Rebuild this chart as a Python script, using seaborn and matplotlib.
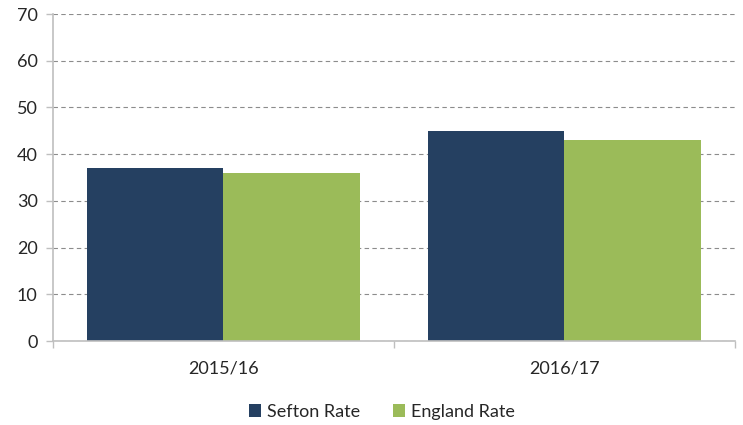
import pandas as pd
import matplotlib.pyplot as plt
import seaborn as sns
from matplotlib.ticker import FixedLocator

# Values
years = ['2015/16', '2016/17']
sefton_rate = [37, 45]
england_rate = [36, 43]
series_names = ['Sefton Rate', 'England Rate']
colors = ['#254061', '#9BBB59']

df = pd.DataFrame({
    'Year': years * 2,
    'Series': [series_names[0]] * len(years) + [series_names[1]] * len(years),
    'Rate': sefton_rate + england_rate,
})

sns.set_style('white')
plt.rcParams['font.family'] = ['Lato', 'DejaVu Sans']

fig = plt.figure(figsize=(7.43, 4.25), dpi=100)
ax = fig.add_axes([0.0713, 0.1976, 0.9177, 0.7694])

sns.barplot(data=df, x='Year', y='Rate', hue='Series', palette=colors,
            width=0.8, saturation=1, linewidth=0, ax=ax, legend=True)

ax.set_ylim(0, 70)
ax.set_xlim(-0.5, 1.5)
ax.set_yticks(range(0, 71, 10))
ax.yaxis.grid(True, linestyle=(0, (4, 3)), color='#8C8C8C', linewidth=0.8)
ax.set_axisbelow(True)

ax.set_xlabel('')
ax.set_ylabel('')
for side in ['top', 'right']:
    ax.spines[side].set_visible(False)
for side in ['left', 'bottom']:
    ax.spines[side].set_color('#BFBFBF')
    ax.spines[side].set_linewidth(1.2)

ax.tick_params(axis='y', which='major', length=5, color='#BFBFBF', width=1,
               labelsize=13, labelcolor='#262626', pad=6, left=True)
ax.tick_params(axis='x', which='major', length=0, labelsize=13,
               labelcolor='#262626', pad=14)
ax.xaxis.set_minor_locator(FixedLocator([-0.5, 0.5, 1.5]))
ax.tick_params(axis='x', which='minor', length=5, color='#BFBFBF', width=1,
               bottom=True)

ax.legend(loc='center', bbox_to_anchor=(0.482, -0.217), ncol=2,
          frameon=False, fontsize=13, handlelength=0.7, handleheight=0.7,
          handletextpad=0.3, columnspacing=1.8, labelcolor='#262626',
          borderpad=0)

fig.savefig('out.png', dpi=100)
